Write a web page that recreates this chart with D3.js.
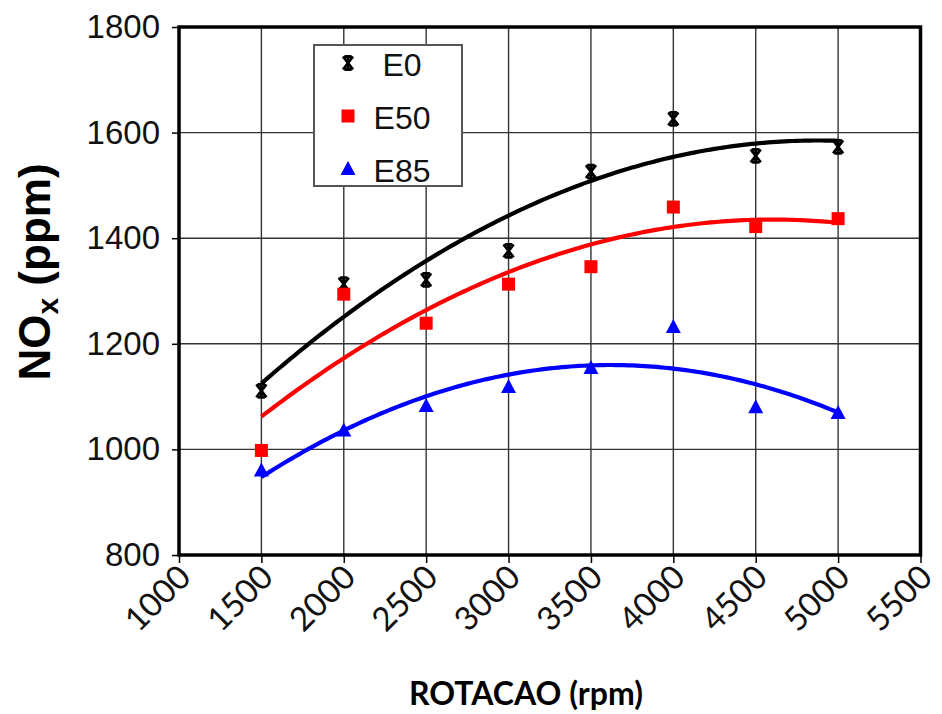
<!DOCTYPE html>
<html>
<head>
<meta charset="utf-8">
<script src="https://cdn.jsdelivr.net/npm/d3@7"></script>
<style>
  body { margin: 0; background: #fff; }
  svg { display: block; }
</style>
</head>
<body>
<svg id="chart" width="942" height="714"></svg>
<script>
// Engine speed (rpm) at which NOx was measured
const rpm = [1500, 2000, 2500, 3000, 3500, 4000, 4500, 5000];
// NOx emissions (ppm) per fuel blend
const noxE0  = [1111, 1313, 1321, 1376, 1526, 1626, 1556, 1573];
const noxE50 = [998, 1294, 1239, 1313, 1346, 1459, 1422, 1437];
const noxE85 = [960, 1036, 1082, 1118, 1154, 1232, 1080, 1069];
const seriesNames = ["E0", "E50", "E85"];
const xTicks = [1000, 1500, 2000, 2500, 3000, 3500, 4000, 4500, 5000, 5500];
const yTicks = [800, 1000, 1200, 1400, 1600, 1800];

const series = [
  { name: seriesNames[0], values: noxE0,  color: "#000000", marker: "star" },
  { name: seriesNames[1], values: noxE50, color: "#ff0000", marker: "square" },
  { name: seriesNames[2], values: noxE85, color: "#0000ff", marker: "triangle" }
];

const svg = d3.select("#chart");
const plot = { left: 179, right: 920.5, top: 27, bottom: 555 };

const x = d3.scaleLinear().domain([1000, 5500]).range([plot.left, plot.right]);
const y = d3.scaleLinear().domain([800, 1800]).range([plot.bottom, plot.top]);

// Second-order least-squares trend line
function quadFit(xs, ys) {
  const n = xs.length;
  const xm = d3.mean(xs), xsd = 500;
  const t = xs.map(v => (v - xm) / xsd);
  const s = [0, 0, 0, 0, 0], r = [0, 0, 0];
  for (let i = 0; i < n; i++) {
    for (let k = 0; k < 5; k++) s[k] += Math.pow(t[i], k);
    for (let k = 0; k < 3; k++) r[k] += Math.pow(t[i], k) * ys[i];
  }
  const A = [[s[0], s[1], s[2], r[0]], [s[1], s[2], s[3], r[1]], [s[2], s[3], s[4], r[2]]];
  for (let c = 0; c < 3; c++) {
    for (let rr = c + 1; rr < 3; rr++) {
      const f = A[rr][c] / A[c][c];
      for (let k = c; k < 4; k++) A[rr][k] -= f * A[c][k];
    }
  }
  const coef = [0, 0, 0];
  for (let c = 2; c >= 0; c--) {
    let v = A[c][3];
    for (let k = c + 1; k < 3; k++) v -= A[c][k] * coef[k];
    coef[c] = v / A[c][c];
  }
  return xv => { const tt = (xv - xm) / xsd; return coef[0] + coef[1] * tt + coef[2] * tt * tt; };
}

// Grid lines
const grid = svg.append("g").attr("stroke", "#333").attr("stroke-width", 1.4);
xTicks.slice(1, -1).forEach(v => {
  grid.append("line").attr("x1", x(v)).attr("x2", x(v)).attr("y1", plot.top).attr("y2", plot.bottom);
});
yTicks.slice(1, -1).forEach(v => {
  grid.append("line").attr("x1", plot.left).attr("x2", plot.right).attr("y1", y(v)).attr("y2", y(v));
});

// Axes
const yAxis = svg.append("g")
  .attr("transform", `translate(${plot.left},0)`)
  .call(d3.axisLeft(y).tickValues(yTicks).tickSize(7).tickPadding(12).tickFormat(d3.format("d")));
yAxis.select(".domain").remove();
yAxis.selectAll(".tick line").attr("stroke", "#000").attr("stroke-width", 1.5);
yAxis.selectAll("text")
  .attr("font-family", "'Liberation Sans', Arial, sans-serif")
  .attr("font-size", 33).attr("fill", "#111");

const xAxis = svg.append("g")
  .attr("transform", `translate(0,${plot.bottom})`)
  .call(d3.axisBottom(x).tickValues(xTicks).tickSize(8).tickFormat(d3.format("d")));
xAxis.select(".domain").remove();
xAxis.selectAll(".tick line").attr("stroke", "#000").attr("stroke-width", 1.5);
xAxis.selectAll("text")
  .attr("font-family", "Lato, 'Open Sans', sans-serif")
  .attr("font-size", 33).attr("fill", "#111")
  .attr("text-anchor", "end")
  .attr("y", 0).attr("dy", "0.35em")
  .attr("transform", "translate(5,16) rotate(-45)");

// Plot frame
svg.append("rect")
  .attr("x", plot.left).attr("y", plot.top)
  .attr("width", plot.right - plot.left).attr("height", plot.bottom - plot.top)
  .attr("fill", "none").attr("stroke", "#000").attr("stroke-width", 3.5);

// Markers
function drawMarker(g, type, color) {
  if (type === "square") {
    g.append("rect").attr("x", -6.5).attr("y", -6.5).attr("width", 13).attr("height", 13).attr("fill", color);
  } else if (type === "triangle") {
    g.append("path").attr("d", "M0,-8 L7.5,6 L-7.5,6 Z").attr("fill", color);
  } else {
    g.append("path").attr("d", "M-5,-6.5 L5,6.5 M5,-6.5 L-5,6.5 M0,-7 L0,7 M-3.5,-6.5 L3.5,-6.5 M-3.5,6.5 L3.5,6.5")
      .attr("stroke", color).attr("stroke-width", 2.8).attr("fill", "none");
  }
}

// Trend curves
const line = d3.line().x(d => x(d[0])).y(d => y(d[1])).curve(d3.curveLinear);
series.forEach(s => {
  const f = quadFit(rpm, s.values);
  const pts = d3.range(rpm[0], rpm[rpm.length - 1] + 1, 25).map(v => [v, f(v)]);
  svg.append("path").datum(pts).attr("d", line)
    .attr("fill", "none").attr("stroke", s.color).attr("stroke-width", 4.2)
    .attr("stroke-linejoin", "round").attr("stroke-linecap", "butt");
});

// Data points
series.forEach(s => {
  s.values.forEach((v, i) => {
    const g = svg.append("g").attr("transform", `translate(${x(rpm[i])},${y(v)})`);
    drawMarker(g, s.marker, s.color);
  });
});

// Legend
const legend = svg.append("g");
legend.append("rect").attr("x", 314).attr("y", 45).attr("width", 148).attr("height", 141)
  .attr("fill", "#fff").attr("stroke", "#555").attr("stroke-width", 2);
series.forEach((s, i) => {
  const cy = 63 + i * 53;
  const g = legend.append("g").attr("transform", `translate(348,${cy})`);
  drawMarker(g, s.marker, s.color);
  legend.append("text").attr("x", 402).attr("y", cy + 2).attr("dy", "0.35em")
    .attr("text-anchor", "middle")
    .attr("font-family", "'Liberation Sans', Arial, sans-serif")
    .attr("font-size", 32).attr("fill", "#111").text(s.name);
});

// Axis titles
svg.append("text")
  .attr("x", 526).attr("y", 705).attr("text-anchor", "middle")
  .attr("font-family", "Lato, 'Open Sans', sans-serif").attr("font-weight", "bold")
  .attr("font-size", 32).attr("fill", "#000")
  .text("ROTACAO (rpm)");

const yTitle = svg.append("text")
  .attr("transform", "translate(50,272) rotate(-90)")
  .attr("text-anchor", "middle")
  .attr("font-family", "'Liberation Sans', Arial, sans-serif").attr("font-weight", "bold")
  .attr("font-size", 44).attr("fill", "#000");
yTitle.append("tspan").text("NO");
yTitle.append("tspan").attr("font-size", 30).attr("dy", 8).text("x");
yTitle.append("tspan").attr("dy", -8).text(" (ppm)");
</script>
</body>
</html>
